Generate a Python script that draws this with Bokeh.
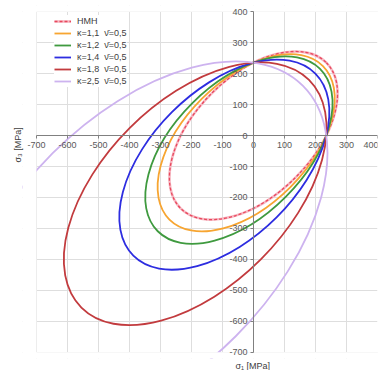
import math
from bokeh.plotting import figure
from bokeh.models import Range1d, FixedTicker, Legend, LegendItem, Title, BoxAnnotation
from bokeh.embed import file_html
from bokeh.resources import INLINE

# ---- data ----
series_labels = ["HMH",
                 "κ=1,1  ν̄=0,5",
                 "κ=1,2  ν̄=0,5",
                 "κ=1,4  ν̄=0,5",
                 "κ=1,8  ν̄=0,5",
                 "κ=2,5  ν̄=0,5"]
kappa = [1.0, 1.1, 1.2, 1.4, 1.8, 2.5]
# yield-surface ellipses: centre on the line sigma1 = sigma3, axes along / across it (MPa)
centre = [0.0, -23.5, -47.0, -94.0, -188.0, -352.5]
major_axis = [664.7, 700.3, 740.2, 830.2, 1038.3, 1448.7]
minor_axis = [383.8, 404.3, 427.4, 479.3, 599.5, 836.4]
tick_values = [-700, -600, -500, -400, -300, -200, -100, 0, 100, 200, 300, 400]
tick_labels = {t: str(t) for t in tick_values}
axis_min, axis_max = -700, 400

colors = ["#e8485e", "#f7a531", "#3f9a3f", "#2d2de0", "#c23b3e", "#cdb3ef"]

# a little room around the [-700, 400] chart area so the edge tick labels are not clipped
p = figure(width=378, height=370,
           min_border_left=22, min_border_right=1, min_border_top=5, min_border_bottom=12,
           x_range=Range1d(-745, 400), y_range=Range1d(-720, 420),
           toolbar_location=None, output_backend="svg")
p.background_fill_color = "white"
p.border_fill_color = "white"
p.outline_line_color = None

for ax in (p.xaxis[0], p.yaxis[0]):
    ax.fixed_location = 0
    ax.bounds = (axis_min, axis_max)
    ax.ticker = FixedTicker(ticks=tick_values)
    ax.major_label_overrides = tick_labels
    ax.minor_tick_line_color = None
    ax.major_tick_in = 0
    ax.major_tick_out = 3
    ax.major_label_standoff = 3
    ax.axis_line_color = "#808080"
    ax.major_tick_line_color = "#808080"
    ax.major_label_text_font = "Liberation Sans"
    ax.major_label_text_font_size = "9px"
    ax.major_label_text_color = "#595959"

for g in (p.xgrid[0], p.ygrid[0]):
    g.ticker = FixedTicker(ticks=tick_values)
    g.grid_line_color = "#dedede"
    g.grid_line_width = 1

angle = math.pi / 4
items = []
for i in range(len(kappa)):
    if i == 0:
        p.ellipse(x=[centre[i]], y=[centre[i]], width=[major_axis[i]], height=[minor_axis[i]],
                  angle=angle, fill_color=None, line_color="#f7b8c2", line_width=2.6)
        p.ellipse(x=[centre[i]], y=[centre[i]], width=[major_axis[i]], height=[minor_axis[i]],
                  angle=angle, fill_color=None, line_color=colors[i], line_width=1.3,
                  line_dash="3 2")
        # one-point lines: nothing drawn in the plot, used only for the legend sample
        l1 = p.line(x=[centre[i]], y=[centre[i]], line_color="#f7b8c2", line_width=2.6)
        l2 = p.line(x=[centre[i]], y=[centre[i]], line_color=colors[i], line_width=1.3,
                    line_dash="3 2")
        items.append(LegendItem(label=series_labels[i], renderers=[l1, l2]))
    else:
        p.ellipse(x=[centre[i]], y=[centre[i]], width=[major_axis[i]], height=[minor_axis[i]],
                  angle=angle, fill_color=None, line_color=colors[i], line_width=1.8)
        l = p.line(x=[centre[i]], y=[centre[i]], line_color=colors[i], line_width=1.8)
        items.append(LegendItem(label=series_labels[i], renderers=[l]))

# white masks outside the [-700, 400] chart area (drawn above curves, below axes)
for kw in (dict(right=axis_min), dict(top=axis_min), dict(bottom=axis_max)):
    p.add_layout(BoxAnnotation(fill_color="white", fill_alpha=1, line_color=None,
                               level="glyph", **kw))

legend = Legend(items=items, location=(32, 271), glyph_width=17, glyph_height=12,
                label_height=12, spacing=0, padding=1, margin=0, label_standoff=6,
                border_line_color=None, background_fill_color="white", background_fill_alpha=1,
                label_text_font="Liberation Sans", label_text_font_size="9px",
                label_text_color="#404040")
p.add_layout(legend)

# axis titles (in the side panels)
xtitle = Title(text="σ₁  [MPa]", align="left", offset=213, standoff=0,
               text_font="Liberation Sans", text_font_size="9px", text_font_style="normal",
               text_color="#404040")
p.add_layout(xtitle, "below")
ytitle = Title(text="σ₃  [MPa]", align="left", offset=196, standoff=0,
               text_font="Liberation Sans", text_font_size="9px", text_font_style="normal",
               text_color="#404040")
p.add_layout(ytitle, "left")

open("out.html", "w").write(file_html(p, INLINE))
